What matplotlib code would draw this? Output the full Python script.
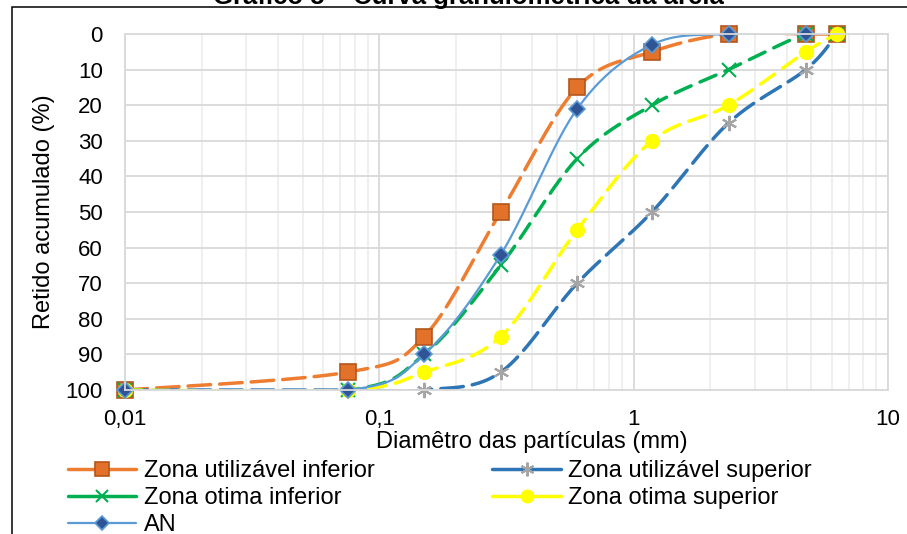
import numpy as np
import matplotlib
matplotlib.use("Agg")
import matplotlib.pyplot as plt
from matplotlib.lines import Line2D
from matplotlib.patches import Rectangle

plt.rcParams['font.family'] = ['Liberation Sans', 'DejaVu Sans']

# peneiras (mm); 0,01 = fundo
sieves = [0.01, 0.075, 0.15, 0.3, 0.6, 1.18, 2.36, 4.75, 6.3]
util_inf = [100, 95, 85, 50, 15, 5, 0, 0, 0]
util_sup = [100, 100, 100, 95, 70, 50, 25, 10, 0]
otima_inf = [100, 100, 90, 65, 35, 20, 10, 0, 0]
otima_sup = [100, 100, 95, 85, 55, 30, 20, 5, 0]
an_sieves = [0.01, 0.075, 0.15, 0.3, 0.6, 1.18, 2.36, 4.75]
an_vals = [100, 100, 90, 62, 21, 3, 0, 0]

xticks = [0.01, 0.1, 1, 10]
xtick_labels = ['0,01', '0,1', '1', '10']
yticks = list(range(0, 101, 10))

W, H = 907, 534
fig = plt.figure(figsize=(W / 100, H / 100), dpi=100)
ax = fig.add_axes([125 / W, 1 - 390 / H, (888 - 125) / W, (390 - 34) / H])
ax.set_xscale('log')
ax.set_xlim(0.01, 10)
ax.set_ylim(100, 0)


def excel_smooth(ax, xs, ys, n=40):
    # bezier smoothing like Excel, done in screen space
    pts = ax.transData.transform(np.column_stack([xs, ys]))
    out = [pts[0]]
    t = np.linspace(0, 1, n)[1:, None]
    for i in range(len(pts) - 1):
        p0 = pts[i - 1] if i > 0 else pts[i]
        p1, p2 = pts[i], pts[i + 1]
        p3 = pts[i + 2] if i + 2 < len(pts) else pts[i + 1]
        c1 = p1 + (p2 - p0) / 6
        c2 = p2 - (p3 - p1) / 6
        seg = (1 - t) ** 3 * p1 + 3 * (1 - t) ** 2 * t * c1 + 3 * (1 - t) * t ** 2 * c2 + t ** 3 * p2
        out.extend(seg)
    out = ax.transData.inverted().transform(np.array(out))
    return out[:, 0], out[:, 1]


series = [
    dict(x=sieves, y=util_inf, color='#ED7D31', lw=2.5, ls=(0, (6.5, 2.6)),
         marker='s', ms=11, mfc='#E2712A', mec='#B4561B', mew=1.2, label='Zona utilizável inferior'),
    dict(x=sieves, y=util_sup, color='#2E75B6', lw=2.5, ls=(0, (6.5, 2.6)),
         marker=(6, 2, 0), ms=11, mfc='#A5A5A5', mec='#A5A5A5', mew=1.5, label='Zona utilizável superior'),
    dict(x=sieves, y=otima_inf, color='#00B050', lw=2.5, ls=(0, (5, 2.8)),
         marker='x', ms=10, mfc='#00B050', mec='#00B050', mew=1.5, label='Zona otima inferior'),
    dict(x=sieves, y=otima_sup, color='#FFFF00', lw=2.5, ls=(0, (5, 2.8)),
         marker='o', ms=10, mfc='#FFFF00', mec='#FFFF00', mew=1, label='Zona otima superior'),
    dict(x=an_sieves, y=an_vals, color='#5B9BD5', lw=1.6, ls='-',
         marker='D', ms=8, mfc='#2F5597', mec='#5B9BD5', mew=1.2, label='AN'),
]

handles = {}
for s in series:
    sx, sy = excel_smooth(ax, s['x'], s['y'])
    ax.plot(sx, sy, color=s['color'], lw=s['lw'], ls=s['ls'], solid_capstyle='round',
            dash_capstyle='round')
    ax.plot(s['x'], s['y'], ls='none', marker=s['marker'], ms=s['ms'],
            mfc=s['mfc'], mec=s['mec'], mew=s['mew'], clip_on=False)
    handles[s['label']] = Line2D([], [], color=s['color'], lw=s['lw'], marker=s['marker'],
                                 ms=s['ms'] * 0.9, mfc=s['mfc'], mec=s['mec'], mew=s['mew'],
                                 solid_capstyle='round')

# grid
ax.set_xticks(xticks)
ax.set_xticklabels(xtick_labels)
ax.set_yticks(yticks)
ax.xaxis.set_minor_locator(matplotlib.ticker.LogLocator(base=10, subs=np.arange(2, 10)))
ax.xaxis.set_minor_formatter(matplotlib.ticker.NullFormatter())
ax.grid(True, which='major', color='#D9D9D9', lw=1.3)
ax.grid(True, which='minor', axis='x', color='#EBEBEB', lw=1.1)
ax.set_axisbelow(True)
ax.tick_params(which='both', length=0)
ax.tick_params(axis='y', labelsize=16, pad=16)
ax.tick_params(axis='x', labelsize=16, pad=14)
for sp in ax.spines.values():
    sp.set_color('#D9D9D9')
    sp.set_linewidth(1.3)

fig.text(44 / W, 1 - 212 / H, 'Retido acumulado (%)', rotation=90, ha='center', va='center', fontsize=17)
fig.text(532 / W, 1 - 442 / H, 'Diamêtro das partículas (mm)', ha='center', va='center', fontsize=17)

fig.text(468 / W, 1 - 4 / H, 'Gráfico 5 – Curva granulométrica da areia', ha='center',
         va='baseline', fontsize=18.5, fontweight='bold')

fig.add_artist(Rectangle((12 / W, -0.5), 2, 0.5 + 1 - 7 / H, transform=fig.transFigure,
                         fill=False, ec='black', lw=1.1))

order = ['Zona utilizável inferior', 'Zona otima inferior', 'AN',
         'Zona utilizável superior', 'Zona otima superior']
fig.legend([handles[k] for k in order], order, ncol=2, loc='upper left',
           bbox_to_anchor=(68 / W, 1 - 460 / H), frameon=False, fontsize=17,
           handlelength=2.9, handletextpad=0.3, columnspacing=5.0,
           labelspacing=0.22, borderpad=0, borderaxespad=0)

fig.savefig('out.png', dpi=100)
